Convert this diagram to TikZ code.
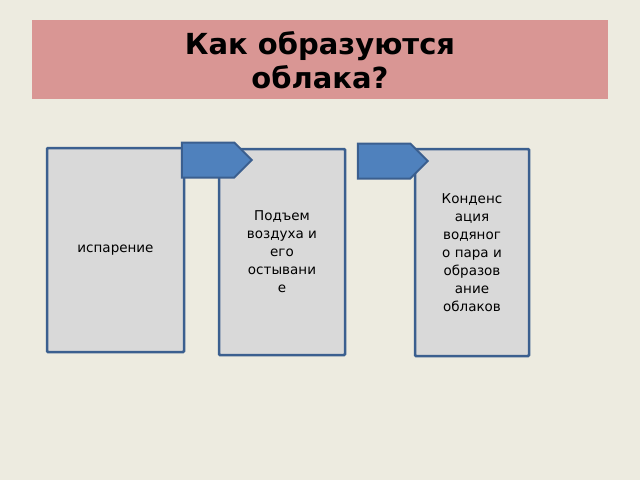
\documentclass[tikz,border=0pt]{standalone}
\usepackage{fontspec}
\setmainfont{DejaVu Sans}
\usetikzlibrary{shapes.arrows}
\definecolor{bg}{HTML}{EDEBE0}
\definecolor{band}{HTML}{D99694}
\definecolor{boxfill}{HTML}{D9D9D9}
\definecolor{boxline}{HTML}{3B5F8F}
\definecolor{arrfill}{HTML}{4F81BD}
\tikzset{
 stagebox/.style={draw=boxline,line width=2.5pt,fill=boxfill,rounded corners=1pt,inner sep=0pt,align=center,font=\fontsize{13.5}{18}\selectfont},
 blockarrow/.style={single arrow,draw=boxline,line width=2pt,fill=arrfill,minimum height=70pt,minimum width=35pt,single arrow head extend=0pt,inner sep=0pt,single arrow tip angle=90}
}
\begin{document}
\begin{tikzpicture}[x=1pt,y=-1pt]
\fill[bg] (0,0) rectangle (640,480);
\useasboundingbox (0,0) rectangle (640,480);
\fill[band] (32,20) rectangle (608,99);
\node[font=\fontsize{29}{34}\selectfont\bfseries,align=center] (title) at (320,60) {Как образуются\\облака?};
\node[stagebox,minimum width=137pt,minimum height=204pt] (b1) at (115.5,250) {испарение};
\node[stagebox,minimum width=126pt,minimum height=206pt] (b2) at (282,252) {Подъем\\воздуха и\\его\\остывани\\е};
\node[stagebox,minimum width=114pt,minimum height=207pt] (b3) at (472,252.5) {Конденс\\ация\\водяног\\о пара и\\образов\\ание\\облаков};
\node[blockarrow] (a1) at (208,160) {};
\node[blockarrow] (a2) at (384,161) {};
\end{tikzpicture}
\end{document}
